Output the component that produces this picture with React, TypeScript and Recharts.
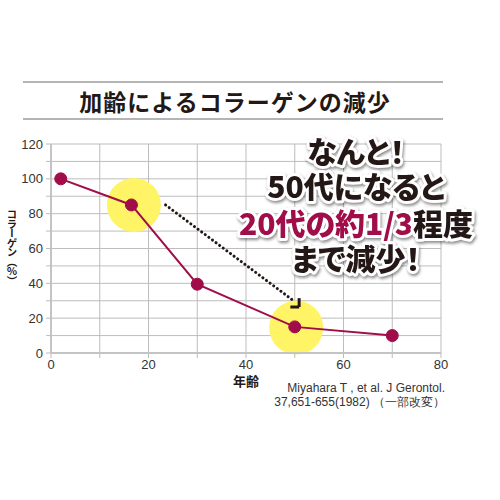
import * as React from 'react';
import {
  CartesianGrid,
  Line,
  LineChart,
  ReferenceDot,
  ReferenceLine,
  XAxis,
  YAxis,
} from 'recharts';

const AGES = [2, 16.5, 30, 50, 70];
const COLLAGEN = [100, 85, 39.5, 15, 10];
const X_TICKS = [0, 10, 20, 30, 40, 50, 60, 70, 80];
const Y_TICKS = [0, 10, 20, 30, 40, 50, 60, 70, 80, 90, 100, 110, 120];
const HIGHLIGHTS = [
  { x: 17, y: 85 },
  { x: 50.3, y: 14.6 },
];
const ARROW_FROM = { x: 23.5, y: 85 };
const ARROW_TO = { x: 50, y: 29.5 };

const TITLE = '加齢によるコラーゲンの減少';
const Y_LABEL = 'コラーゲン（％）';
const X_LABEL = '年齢';
const CITATION = ['Miyahara T , et al. J Gerontol.', '37,651-655(1982) （一部改変）'];
const CALLOUT = [
  [{ t: 'なんと！', c: 'dark' }],
  [{ t: '50代になると', c: 'dark' }],
  [
    { t: '20代の約1/3', c: 'red' },
    { t: '程度', c: 'dark' },
  ],
  [{ t: 'まで減少！', c: 'dark' }],
];

const data = AGES.map((age, i) => ({ age, value: COLLAGEN[i] }));

const LINE_COLOR = '#a00d49';
const GRID_COLOR = '#bdbdbd';
const TEXT_COLOR = '#333333';
const DARK = '#231815';
const TICK_FONT = '"Liberation Sans", Arial, sans-serif';
const JP_FONT = '"Noto Sans CJK JP", "Noto Sans", sans-serif';

// baselines of the callout rows
const CALLOUT_Y = [163, 198, 235, 270];

export default function App() {
  return (
    <div
      style={{
        position: 'absolute',
        left: 0,
        top: 0,
        width: 500,
        height: 500,
        background: '#fff',
      }}
    >
      <LineChart
        width={500}
        height={500}
        data={data}
        margin={{ top: 144, right: 59, bottom: 127, left: 11 }}
      >
        <CartesianGrid stroke={GRID_COLOR} strokeWidth={1} />
        <XAxis
          dataKey="age"
          type="number"
          domain={[0, 80]}
          ticks={X_TICKS}
          interval={0}
          height={20}
          axisLine={{ stroke: '#c4c4c4', strokeWidth: 2 }}
          tickLine={{ stroke: GRID_COLOR }}
          tickSize={5}
          tickMargin={2}
          tickFormatter={v => (v % 20 === 0 ? String(v) : '')}
          tick={{ fill: TEXT_COLOR, fontSize: 13, fontFamily: TICK_FONT }}
          label={{
            value: X_LABEL,
            position: 'bottom',
            offset: 4,
            fill: DARK,
            fontSize: 13,
            fontWeight: 700,
            fontFamily: JP_FONT,
          }}
        />
        <YAxis
          type="number"
          domain={[0, 120]}
          ticks={Y_TICKS}
          interval={0}
          width={40}
          axisLine={{ stroke: '#c4c4c4', strokeWidth: 2 }}
          tickLine={{ stroke: GRID_COLOR }}
          tickSize={5}
          tickMargin={3}
          tickFormatter={v => (v % 20 === 0 ? String(v) : '')}
          tick={{ fill: TEXT_COLOR, fontSize: 13, fontFamily: TICK_FONT }}
        />
        {HIGHLIGHTS.map((h, i) => (
          <ReferenceDot
            key={i}
            x={h.x}
            y={h.y}
            r={27}
            fill="#fff466"
            stroke="none"
            zIndex={50}
          />
        ))}
        <Line
          dataKey="value"
          stroke={LINE_COLOR}
          strokeWidth={2}
          dot={{ r: 6, fill: LINE_COLOR, stroke: LINE_COLOR, strokeWidth: 1 }}
          isAnimationActive={false}
        />
        <ReferenceLine
          segment={[ARROW_FROM, ARROW_TO]}
          stroke={DARK}
          strokeWidth={3}
          strokeDasharray="0.1 4.4"
          strokeLinecap="round"
          zIndex={1000}
        />
        <ReferenceLine
          segment={[
            { x: 49.1, y: 26.4 },
            { x: 50.9, y: 26.4 },
          ]}
          stroke={DARK}
          strokeWidth={3}
          zIndex={1000}
        />
        <ReferenceLine
          segment={[
            { x: 50.9, y: 26.4 },
            { x: 50.9, y: 31.5 },
          ]}
          stroke={DARK}
          strokeWidth={3}
          zIndex={1000}
        />
      </LineChart>
      <svg
        width={500}
        height={500}
        style={{ position: 'absolute', left: 0, top: 0, pointerEvents: 'none' }}
      >
        <line x1={23} x2={443} y1={82} y2={82} stroke="#6b6b6b" strokeWidth={1.2} />
        <line x1={23} x2={443} y1={119} y2={119} stroke="#6b6b6b" strokeWidth={1.2} />
        <text
          x={235}
          y={101}
          textAnchor="middle"
          dominantBaseline="central"
          fill={DARK}
          fontSize={23}
          fontWeight={700}
          letterSpacing={1}
          fontFamily={JP_FONT}
        >
          {TITLE}
        </text>
        <text
          x={12}
          y={209}
          fill={DARK}
          fontSize={10.5}
          fontWeight={700}
          fontFamily={JP_FONT}
          letterSpacing={-1}
          style={{ writingMode: 'vertical-rl', textOrientation: 'upright' }}
        >
          {Y_LABEL}
        </text>
        {CITATION.map((line, i) => (
          <text
            key={i}
            x={445}
            y={388 + i * 14}
            textAnchor="end"
            dominantBaseline="central"
            fill={TEXT_COLOR}
            fontSize={12}
            fontFamily={TICK_FONT}
          >
            {line}
          </text>
        ))}
        <g style={{ filter: 'drop-shadow(1.5px 2px 1.5px rgba(0,0,0,0.45))' }}>
          <text
            textAnchor="middle"
            fontSize={30}
            fontWeight={900}
            fontFamily={JP_FONT}
            stroke="#ffffff"
            strokeWidth={6}
            strokeLinejoin="round"
            paintOrder="stroke"
            style={{ fontFeatureSettings: '"palt"' }}
          >
            {CALLOUT.map((parts, i) =>
              parts.map((p, j) => (
                <tspan
                  key={`${i}-${j}`}
                  x={j === 0 ? 356 : undefined}
                  y={j === 0 ? CALLOUT_Y[i] : undefined}
                  fill={p.c === 'red' ? LINE_COLOR : DARK}
                >
                  {p.t}
                </tspan>
              ))
            )}
          </text>
        </g>
      </svg>
    </div>
  );
}
